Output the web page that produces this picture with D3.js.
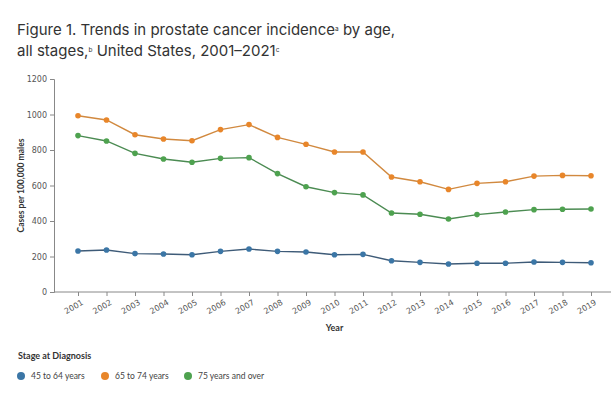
<!DOCTYPE html>
<html>
<head>
<meta charset="utf-8">
<script src="https://cdn.jsdelivr.net/npm/d3@7"></script>
<style>
  body { margin: 0; background: #fff; }
  svg { display: block; }
</style>
</head>
<body>
<div id="chart"></div>
<script>
// Data
const years = [2001, 2002, 2003, 2004, 2005, 2006, 2007, 2008, 2009, 2010,
               2011, 2012, 2013, 2014, 2015, 2016, 2017, 2018, 2019];
const age45to64 = [231, 237, 216, 214, 210, 229, 242, 229, 225, 210,
                   212, 176, 167, 158, 162, 162, 169, 167, 165];
const age65to74 = [993, 969, 886, 862, 852, 915, 943, 871, 832, 789,
                   789, 648, 621, 578, 612, 621, 653, 657, 655];
const age75plus = [881, 851, 781, 749, 731, 753, 757, 667, 593, 560,
                   547, 445, 438, 411, 436, 451, 464, 466, 468];
const seriesNames = ["45 to 64 years", "65 to 74 years", "75 years and over"];
const yTicks = [0, 200, 400, 600, 800, 1000, 1200];

const seriesValues = [age45to64, age65to74, age75plus];
const dotColors = ["#3b76a6", "#e8862a", "#4ea24f"];
const lineColors = ["#3e5b78", "#d1893f", "#4b8b52"];

let width = 611, height = 395;
let margin = { top: 79, right: 20, bottom: 103, left: 54 };

let svg = d3.select("#chart").append("svg")
    .attr("width", width)
    .attr("height", height);

// Title with superscript notes
let titleFont = "Inter, 'Noto Sans', sans-serif";

let title = svg.append("text")
    .attr("x", 17)
    .attr("y", 35)
    .style("font-family", titleFont)
    .style("font-size", "15px")
    .style("font-weight", 400)
    .style("fill", "#333");
title.append("tspan").text("Figure 1. Trends in prostate cancer incidence");
title.append("tspan").attr("dy", "-4").style("font-size", "6.5px").text("a");
title.append("tspan").attr("dy", "4").text(" by age,");

let title2 = svg.append("text")
    .attr("x", 17)
    .attr("y", 56)
    .style("font-family", titleFont)
    .style("font-size", "15px")
    .style("font-weight", 400)
    .style("fill", "#333");
title2.append("tspan").text("all stages,");
title2.append("tspan").attr("dy", "-4").style("font-size", "6.5px").text("b");
title2.append("tspan").attr("dy", "4").text(" United States, 2001\u20132021");
title2.append("tspan").attr("dy", "-4").style("font-size", "6.5px").text("c");

// Scales
let xScale = d3.scalePoint()
    .domain(years)
    .range([78, 591]);

let yScale = d3.scaleLinear()
    .domain([0, 1200])
    .range([height - margin.bottom, margin.top]);

// Y axis
let yAxis = svg.append("g")
    .attr("transform", `translate(${margin.left}, 0)`)
    .call(d3.axisLeft(yScale).tickValues(yTicks).tickFormat(d3.format("d"))
        .tickSize(4).tickPadding(3));
yAxis.select(".domain").attr("stroke", "#888");
yAxis.selectAll(".tick line").attr("stroke", "#888");
yAxis.selectAll(".tick text")
    .style("font-family", "'DejaVu Sans', sans-serif")
    .style("font-size", "8px")
    .style("fill", "#555");

// X axis
let xAxis = svg.append("g")
    .attr("transform", `translate(0, ${yScale(0)})`)
    .call(d3.axisBottom(xScale).tickSize(4).tickSizeOuter(0));
xAxis.select(".domain")
    .attr("d", `M${margin.left},0H${width}`)
    .attr("stroke", "#888");
xAxis.selectAll(".tick line").attr("stroke", "#888");
xAxis.selectAll(".tick text")
    .style("font-family", "'DejaVu Sans', sans-serif")
    .style("font-size", "8px")
    .style("fill", "#555")
    .attr("text-anchor", "end")
    .attr("dy", "0")
    .attr("transform", "translate(2, 6) rotate(-30)");

// Axis labels
svg.append("text")
    .attr("x", (78 + 591) / 2)
    .attr("y", 331)
    .attr("text-anchor", "middle")
    .style("font-family", "Lato, sans-serif")
    .style("font-size", "9px")
    .style("font-weight", "bold")
    .style("fill", "#333")
    .text("Year");

svg.append("text")
    .attr("transform", "rotate(-90)")
    .attr("x", -(margin.top + yScale(0)) / 2)
    .attr("y", 24)
    .attr("text-anchor", "middle")
    .style("font-family", "Lato, sans-serif")
    .style("font-size", "8.5px")
    .style("font-weight", "bold")
    .style("fill", "#333")
    .text("Cases per 100,000 males");

// Lines and points
let line = d3.line()
    .x((d, i) => xScale(years[i]))
    .y(d => yScale(d));

seriesValues.forEach((vals, s) => {
    svg.append("path")
        .datum(vals)
        .attr("fill", "none")
        .attr("stroke", lineColors[s])
        .attr("stroke-width", 1.4)
        .attr("d", line);

    svg.selectAll(".dot-" + s)
        .data(vals)
        .enter()
        .append("circle")
        .attr("class", "dot-" + s)
        .attr("cx", (d, i) => xScale(years[i]))
        .attr("cy", d => yScale(d))
        .attr("r", 2.8)
        .attr("fill", dotColors[s]);
});

// Legend
svg.append("text")
    .attr("x", 18)
    .attr("y", 359)
    .style("font-family", "Lato, sans-serif")
    .style("font-size", "9px")
    .style("font-weight", "bold")
    .style("fill", "#333")
    .text("Stage at Diagnosis");

let legendX = [21, 105, 188];
seriesNames.forEach((name, i) => {
    let g = svg.append("g")
        .attr("transform", `translate(${legendX[i]}, 376)`);
    g.append("circle")
        .attr("r", 4)
        .attr("fill", dotColors[i]);
    g.append("text")
        .attr("x", 10)
        .attr("y", 3)
        .style("font-family", "Lato, sans-serif")
        .style("font-size", "8.5px")
        .style("fill", "#444")
        .text(name);
});
</script>
</body>
</html>
